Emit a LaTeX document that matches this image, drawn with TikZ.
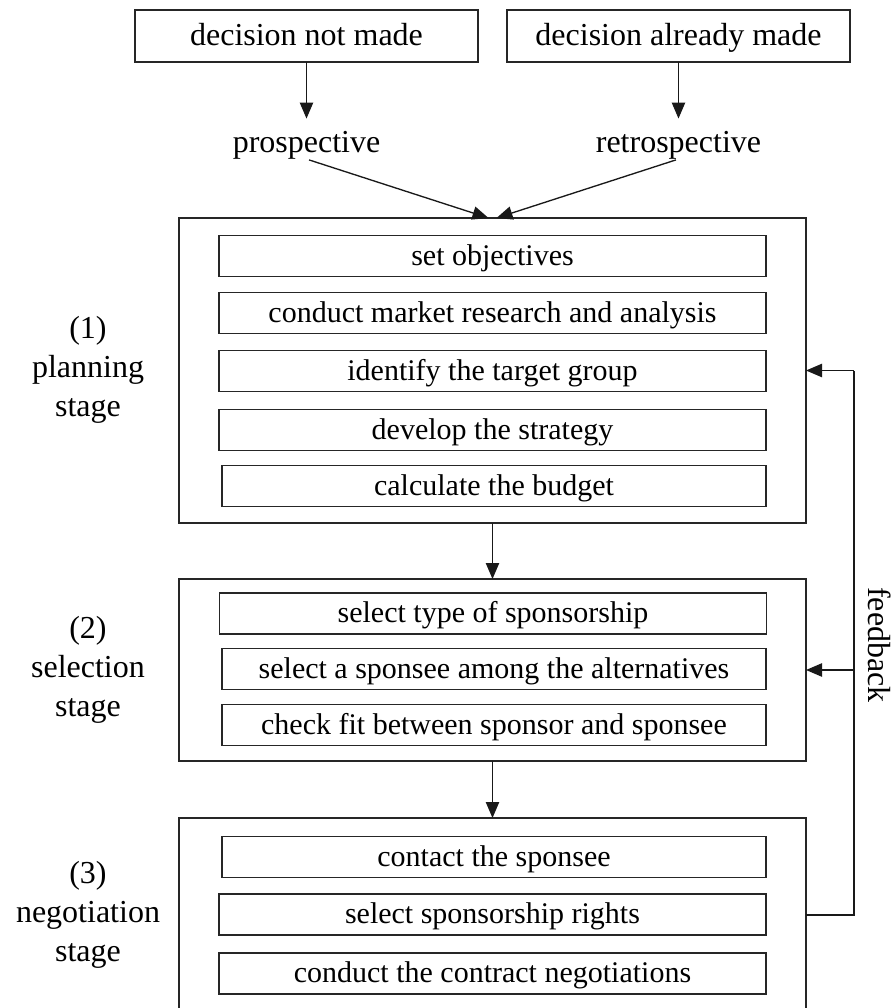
\documentclass[tikz,border=0pt]{standalone}
\usepackage{fontspec}
\setmainfont{Liberation Serif}
\usetikzlibrary{arrows.meta}
\newcommand{\pxw}{0.75pt}
\tikzset{
  box/.style={draw=black!85, line width=1.2pt, inner sep=0pt, outer sep=0pt,
    text height=16.5pt, text depth=3pt},
  topbox/.style={box, minimum width=343*\pxw, minimum height=52*\pxw, font=\fontsize{24}{28}\selectfont},
  stagebox/.style={box, minimum width=627*\pxw, minimum height=#1*\pxw},
  task/.style={box, minimum width=547*\pxw, minimum height=41*\pxw, font=\fontsize{22.5}{27}\selectfont},
  narrowtask/.style={task, minimum width=544*\pxw},
  choicelabel/.style={inner sep=0pt, font=\fontsize{24}{28}\selectfont},
  stagelabel/.style={align=center, inner sep=0pt, font=\fontsize{24}{29.5}\selectfont},
  flow/.style={draw=black!90, line width=1pt, -{Triangle[length=12pt,width=10pt]}},
  fbline/.style={draw=black!90, line width=1pt}
}
\begin{document}
\begin{tikzpicture}[x=0.75pt, y=-0.75pt]
\useasboundingbox (0,0) rectangle (894,1008);

% decision situation
\node[topbox] (dnm) at (306.5,36) {decision not made};
\node[topbox] (dam) at (678.5,36) {decision already made};
\node[choicelabel, anchor=base] (pro) at (306.5,152) {prospective};
\node[choicelabel, anchor=base] (retro) at (678.5,152) {retrospective};

% (1) planning stage
\node[stagebox=305] (plan) at (492.5,370.5) {};
\node[task] (p1) at (492.5,256) {set objectives};
\node[task] (p2) at (492.5,313) {conduct market research and analysis};
\node[task] (p3) at (492.5,371) {identify the target group};
\node[task] (p4) at (492.5,430) {develop the strategy};
\node[narrowtask] (p5) at (494,486) {calculate the budget};

% (2) selection stage
\node[stagebox=182] (sel) at (492.5,670) {};
\node[task] (s1) at (493,613.5) {select type of sponsorship};
\node[narrowtask] (s2) at (494,669) {select a sponsee among the alternatives};
\node[narrowtask] (s3) at (494,725) {check fit between sponsor and sponsee};

% (3) negotiation stage
\node[stagebox=194] (neg) at (492.5,915) {};
\node[narrowtask] (n1) at (494,857) {contact the sponsee};
\node[task] (n2) at (492.5,914.5) {select sponsorship rights};
\node[task] (n3) at (492.5,973.5) {conduct the contract negotiations};

% stage names
\node[stagelabel] (l1) at (88,370) {(1)\\planning\\stage};
\node[stagelabel] (l2) at (88,670) {(2)\\selection\\stage};
\node[stagelabel] (l3) at (88,915) {(3)\\negotiation\\stage};

% main flow
\draw[flow, shorten >=9pt] (dnm) -- (pro);
\draw[flow, shorten >=9pt] (dam) -- (retro);
\draw[flow, shorten <=2pt] (pro.south) -- ([xshift=-3pt]plan.north);
\draw[flow, shorten <=2pt] (retro.south) -- ([xshift=3pt]plan.north);
\draw[flow] (plan) -- (sel);
\draw[flow] (sel) -- (neg);

% feedback loop
\coordinate (fbb) at (854,915);
\coordinate (fbt) at (854,370.5);
\coordinate (fbm) at (854,670);
\draw[fbline] (neg.east) -- (fbb) -- (fbt);
\draw[flow] (fbt) -- (plan.east);
\draw[flow] (fbm) -- (sel.east);
\node[rotate=-90, inner sep=0pt, font=\fontsize{24}{28}\selectfont] (fb) at (880,645) {feedback};
\end{tikzpicture}
\end{document}
